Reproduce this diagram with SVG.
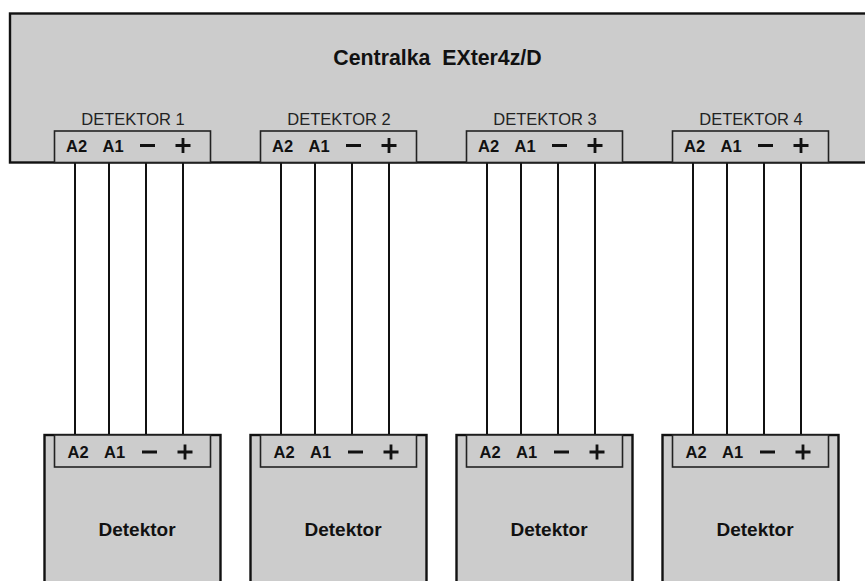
<svg xmlns="http://www.w3.org/2000/svg" width="865" height="581" viewBox="0 0 865 581">
<style>
.box{fill:#ccc;stroke:#111;stroke-width:2.4}
.term{fill:#ccc;stroke:#222;stroke-width:1.6}
.w{stroke:#111;stroke-width:2;fill:none}
.sym{stroke:#111;stroke-width:2.8;fill:none}
text{font-family:"Liberation Sans",Arial,sans-serif;fill:#111}
.t{font-size:16.5px;font-weight:bold}
.h{font-size:16.5px;text-anchor:middle;fill:#222}
.n{font-size:19px;font-weight:bold;text-anchor:middle}
.c{font-size:21.300px;font-weight:bold;text-anchor:middle}
</style>
<defs>
<g id="top">
<rect class="term" x="0" y="0" width="156" height="31.500"/>
<text class="t" x="11.500" y="21">A2</text><text class="t" x="48" y="21">A1</text>
<path class="sym" d="M85.500 14.500H100.500M121 14.500H136M128.500 7V22"/>
</g>
<g id="bot">
<rect class="term" x="0" y="0" width="156" height="32"/>
<text class="t" x="13" y="23">A2</text><text class="t" x="49.500" y="23">A1</text>
<path class="sym" d="M87.500 17H102.500M123 17H138M130.500 9.500V24.500"/>
</g>
<path id="wires" class="w" d="M21 0V271M55 0V271M92 0V271M129 0V271"/>
</defs>
<g id="connectors">
<use href="#wires" x="54" y="163"/>
<use href="#wires" x="260" y="163"/>
<use href="#wires" x="466" y="163"/>
<use href="#wires" x="672" y="163"/>
</g>
<g id="centralka">
<rect class="box" x="10" y="13.500" width="870" height="149"/>
<text class="c" x="437.500" y="64.500" xml:space="preserve">Centralka  EXter4z/D</text>
<text class="h" x="133" y="125">DETEKTOR 1</text>
<text class="h" x="339" y="125">DETEKTOR 2</text>
<text class="h" x="545" y="125">DETEKTOR 3</text>
<text class="h" x="751" y="125">DETEKTOR 4</text>
<use href="#top" x="54.500" y="131"/>
<use href="#top" x="260.500" y="131"/>
<use href="#top" x="466.500" y="131"/>
<use href="#top" x="672.500" y="131"/>
</g>
<g id="detektor1">
<rect class="box" x="44.500" y="435" width="176" height="160"/>
<use href="#bot" x="54.500" y="435"/>
<text class="n" x="137" y="536">Detektor</text>
</g>
<g id="detektor2">
<rect class="box" x="250.500" y="435" width="176" height="160"/>
<use href="#bot" x="260.500" y="435"/>
<text class="n" x="343" y="536">Detektor</text>
</g>
<g id="detektor3">
<rect class="box" x="456.500" y="435" width="176" height="160"/>
<use href="#bot" x="466.500" y="435"/>
<text class="n" x="549" y="536">Detektor</text>
</g>
<g id="detektor4">
<rect class="box" x="662.500" y="435" width="176" height="160"/>
<use href="#bot" x="672.500" y="435"/>
<text class="n" x="755" y="536">Detektor</text>
</g>
</svg>
